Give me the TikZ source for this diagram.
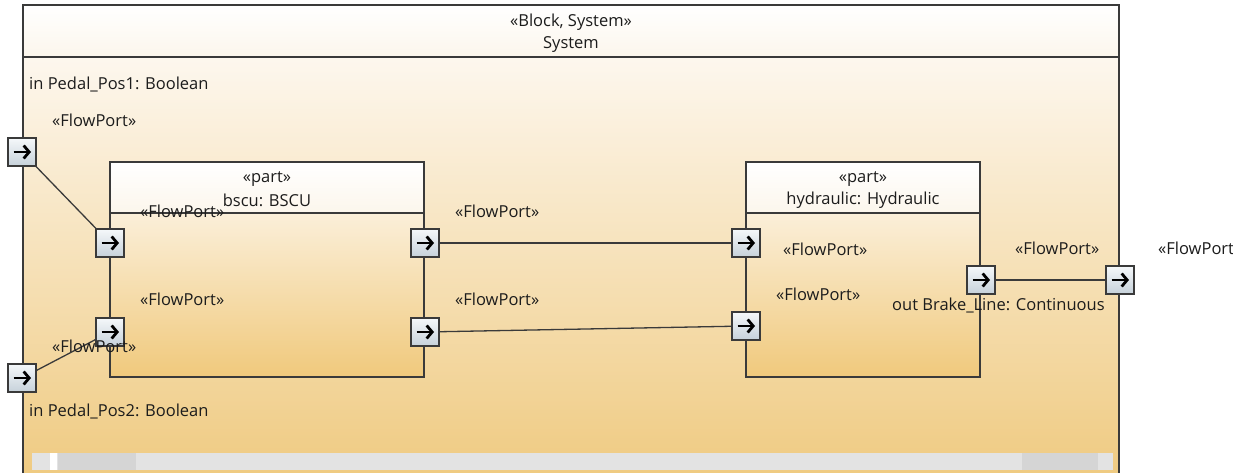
\documentclass[tikz,border=0pt]{standalone}
\usepackage{fontspec}
\setmainfont{Open Sans}
\usetikzlibrary{arrows.meta}
\definecolor{frameline}{HTML}{3A3A3A}
\definecolor{txt}{HTML}{1C1C1C}
\definecolor{hdrtop}{HTML}{FFFFFF}
\definecolor{hdrbot}{HTML}{FCF6EC}
\definecolor{bodytop}{HTML}{FDF7EE}
\definecolor{bodybot}{HTML}{EFCA80}
\definecolor{blktop}{HTML}{FBEFD9}
\definecolor{blkbot}{HTML}{F0C97C}
\definecolor{porttop}{HTML}{F5F8FA}
\definecolor{portbot}{HTML}{C6D1DA}
\definecolor{sbar}{HTML}{E3E3E3}
\definecolor{sthumb}{HTML}{D5D5D5}
\tikzset{
  blockhead/.style={draw=frameline, line width=1.5pt, top color=hdrtop, bottom color=hdrbot, inner sep=0pt},
  blockbody/.style={draw=frameline, line width=1.5pt, top color=blktop, bottom color=blkbot, inner sep=0pt},
  port/.style={draw=frameline, line width=1.1pt, top color=porttop, bottom color=portbot,
    minimum size=28pt, inner sep=0pt,
    path picture={\draw[line width=2.8pt, black, -{Straight Barb[length=5.5pt,width=13pt,line width=2.8pt]}]
      ([xshift=-8.5pt]path picture bounding box.center) -- ([xshift=9pt]path picture bounding box.center);}},
  conn/.style={draw=frameline, line width=1.3pt},
  lbl/.style={text=txt, inner sep=0pt, anchor=west},
  ctr/.style={text=txt, inner sep=0pt, anchor=center}
}
\begin{document}
\begin{tikzpicture}[x=1pt, y=-1pt, font=\fontsize{16.5}{20}\selectfont]
\useasboundingbox (0,0) rectangle (1233,473);
\fill[white] (0,0) rectangle (1233,473);
% outer System frame
\path[top color=hdrtop, bottom color=hdrbot] (23,5) rectangle (1119,57);
\path[top color=bodytop, bottom color=bodybot] (23,57) rectangle (1119,480);
\draw[frameline, line width=2pt] (23,480) -- (23,5) -- (1119,5) -- (1119,480);
\draw[frameline, line width=2pt] (23,57) -- (1119,57);
\node[ctr] (systitle1) at (571,22) {«Block, System»};
\node[ctr] (systitle2) at (571,45) {System};
% scrollbar
\fill[sbar] (32,453) rectangle (1113,470);
\fill[sthumb] (58,453) rectangle (136,470);
\fill[white] (50,453) rectangle (57,470);
\fill[sthumb] (1022,453) rectangle (1098,470);
% blocks
\node[blockhead, minimum width=314pt, minimum height=51pt] (bscuhead) at (267,187.5) {};
\node[blockbody, minimum width=314pt, minimum height=164pt] (bscu) at (267,295) {};
\node[blockhead, minimum width=234pt, minimum height=51pt] (hydhead) at (863,187.5) {};
\node[blockbody, minimum width=234pt, minimum height=164pt] (hyd) at (863,295) {};
\node[ctr] (bscut1) at (267,179) {«part»};
\node[ctr] (bscut2) at (267,200) {bscu: BSCU};
\node[ctr] (hydt1) at (863,179) {«part»};
\node[ctr] (hydt2) at (863,200) {hydraulic: Hydraulic};
% ports
\node[port] (sp1) at (22,152) {};
\node[port] (sp2) at (22,378) {};
\node[port] (spout) at (1120,280) {};
\node[port] (bin1) at (110,243) {};
\node[port] (bin2) at (110,332) {};
\node[port] (bout1) at (425,243) {};
\node[port] (bout2) at (425,332) {};
\node[port] (hin1) at (746,243) {};
\node[port] (hin2) at (746,326) {};
\node[port] (hout) at (981,280) {};
% connectors
\draw[conn] (sp1) -- (bin1);
\draw[conn] (sp2) -- (bin2);
\draw[conn] (bout1) -- (hin1);
\draw[conn] (bout2) -- (hin2);
\draw[conn] (hout) -- (spout);
% labels
\node[lbl] (l1) at (29,85) {in Pedal\_Pos1: Boolean};
\node[lbl] (l2) at (52,120) {«FlowPort»};
\node[lbl] (l3) at (140,211) {«FlowPort»};
\node[lbl] (l4) at (455,211) {«FlowPort»};
\node[lbl] (l5) at (140,299) {«FlowPort»};
\node[lbl] (l6) at (455,299) {«FlowPort»};
\node[lbl] (l7) at (52,346) {«FlowPort»};
\node[lbl] (l8) at (29,411) {in Pedal\_Pos2: Boolean};
\node[lbl] (l9) at (783,249) {«FlowPort»};
\node[lbl] (l10) at (776,294) {«FlowPort»};
\node[lbl] (l11) at (892,305) {out Brake\_Line: Continuous};
\node[lbl] (l12) at (1015,248) {«FlowPort»};
\node[lbl] (l13) at (1158,248) {«FlowPort»};
\end{tikzpicture}
\end{document}
